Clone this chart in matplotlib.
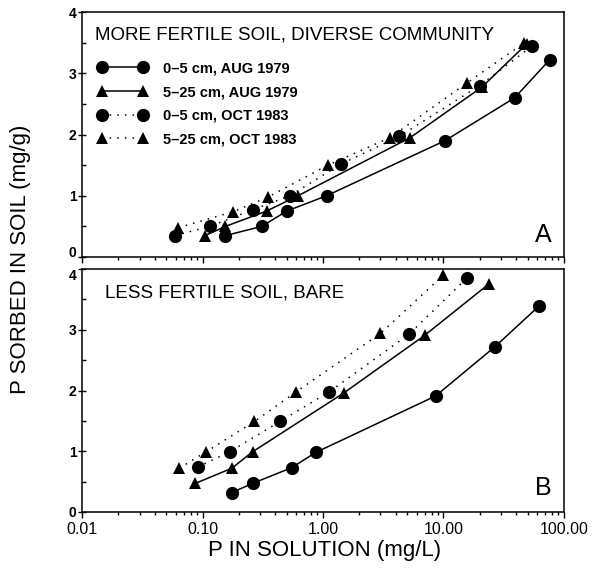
import matplotlib as mpl
mpl.use('Agg')
import matplotlib.pyplot as plt
from matplotlib.ticker import LogLocator, FixedLocator, FixedFormatter, MultipleLocator

plt.rcParams['font.family'] = ['Liberation Sans', 'DejaVu Sans']

# panel A: more fertile soil, diverse community
a_aug_05_x = [0.155, 0.31, 0.50, 1.07, 10.3, 39, 76]
a_aug_05_y = [0.35, 0.50, 0.75, 1.00, 1.90, 2.60, 3.22]
a_aug_525_x = [0.105, 0.155, 0.34, 0.62, 5.3, 21, 49]
a_aug_525_y = [0.35, 0.50, 0.75, 1.00, 1.95, 2.78, 3.48]
a_oct_05_x = [0.059, 0.115, 0.26, 0.53, 1.42, 4.3, 20, 54]
a_oct_05_y = [0.35, 0.50, 0.77, 1.00, 1.52, 1.97, 2.80, 3.44]
a_oct_525_x = [0.063, 0.18, 0.35, 1.1, 3.6, 15.6, 47]
a_oct_525_y = [0.48, 0.74, 0.98, 1.50, 1.95, 2.84, 3.50]

# panel B: less fertile soil, bare
b_aug_05_x = [0.175, 0.26, 0.55, 0.87, 8.6, 26.7, 62]
b_aug_05_y = [0.32, 0.47, 0.73, 0.98, 1.91, 2.72, 3.39]
b_aug_525_x = [0.087, 0.175, 0.26, 1.49, 7.0, 24]
b_aug_525_y = [0.47, 0.72, 0.99, 1.96, 2.91, 3.76]
b_oct_05_x = [0.091, 0.168, 0.44, 1.13, 5.2, 15.6]
b_oct_05_y = [0.74, 0.99, 1.49, 1.98, 2.93, 3.85]
b_oct_525_x = [0.064, 0.107, 0.27, 0.6, 3.0, 10]
b_oct_525_y = [0.72, 0.99, 1.49, 1.98, 2.94, 3.90]

labels = ['0\u20135 cm, AUG 1979', '5\u201325 cm, AUG 1979',
          '0\u20135 cm, OCT 1983', '5\u201325 cm, OCT 1983']
xticks = [0.01, 0.1, 1, 10, 100]
xtick_labels = ['0.01', '0.10', '1.00', '10.00', '100.00']
yticks = [0, 1, 2, 3, 4]

styles = [dict(marker='o', ls='-', ms=9.5),
          dict(marker='^', ls='-', ms=9),
          dict(marker='o', ls=(0, (1, 4)), ms=9.5),
          dict(marker='^', ls=(0, (1, 4)), ms=9)]

fig = plt.figure(figsize=(5.96, 5.69), dpi=100)
axA = fig.add_axes([0.1376, 0.5483, 0.8087, 0.4306])
axB = fig.add_axes([0.1376, 0.1002, 0.8087, 0.4270])


def draw(ax, series):
    handles = []
    for (x, y), st in zip(series, styles):
        h, = ax.plot(x, y, color='black', lw=1.1, clip_on=False,
                     markeredgewidth=0, **st)
        handles.append(h)
    ax.set_xscale('log')
    ax.set_xlim(0.01, 100)
    ax.set_ylim(0, 4)
    ax.yaxis.set_major_locator(FixedLocator(yticks))
    ax.yaxis.set_minor_locator(MultipleLocator(0.5))
    ax.xaxis.set_major_locator(FixedLocator(xticks))
    ax.xaxis.set_minor_locator(LogLocator(base=10, subs=range(2, 10)))
    ax.tick_params(axis='x', which='major', direction='out', length=4, width=1)
    ax.tick_params(axis='x', which='minor', direction='out', length=2.5, width=1)
    ax.tick_params(axis='y', which='major', direction='inout', length=6, width=1,
                   labelsize=10, pad=1)
    ax.tick_params(axis='y', which='minor', direction='in', length=3, width=1)
    for s in ax.spines.values():
        s.set_linewidth(1.1)
    return handles


hA = draw(axA, [(a_aug_05_x, a_aug_05_y), (a_aug_525_x, a_aug_525_y),
                (a_oct_05_x, a_oct_05_y), (a_oct_525_x, a_oct_525_y)])
draw(axB, [(b_aug_05_x, b_aug_05_y), (b_aug_525_x, b_aug_525_y),
           (b_oct_05_x, b_oct_05_y), (b_oct_525_x, b_oct_525_y)])

axA.set_xticklabels([])
axB.xaxis.set_major_formatter(FixedFormatter(xtick_labels))
axB.tick_params(axis='x', labelsize=11.5)

fig.canvas.draw()
for ax in (axA, axB):
    for lab in ax.get_yticklabels():
        lab.set_fontweight('bold')
# the "0" of A and the "4" of B sit close together at the panel seam
for t in axA.yaxis.get_major_ticks():
    if t.get_loc() == 0:
        t.label1.set_va('baseline')
for t in axB.yaxis.get_major_ticks():
    if t.get_loc() == 4:
        t.label1.set_va('top')

axA.text(0.027, 0.905, 'MORE FERTILE SOIL, DIVERSE COMMUNITY', transform=axA.transAxes,
         fontsize=13.5, va='center', ha='left')
axB.text(0.048, 0.9, 'LESS FERTILE SOIL, BARE', transform=axB.transAxes,
         fontsize=13.5, va='center', ha='left')
axA.text(0.975, 0.09, 'A', transform=axA.transAxes, fontsize=18, ha='right', va='center')
axB.text(0.975, 0.1, 'B', transform=axB.transAxes, fontsize=18, ha='right', va='center')

leg = axA.legend(hA, labels, loc='upper left', bbox_to_anchor=(0.0046, 0.852),
                 numpoints=2, handlelength=3.41, handletextpad=1.07, labelspacing=0.66,
                 frameon=False, prop=dict(size=10.5, weight='bold'))

fig.text(0.035, 0.545, 'P SORBED IN SOIL (mg/g)', rotation=90, fontsize=16,
         ha='center', va='center')
fig.text(0.545, 0.033, 'P IN SOLUTION (mg/L)', fontsize=16, ha='center', va='center')

fig.savefig('out.png', dpi=100)
